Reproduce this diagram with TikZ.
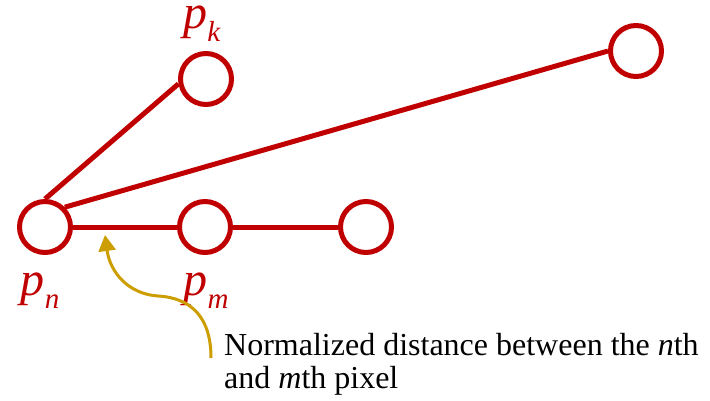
\documentclass[tikz,border=0pt]{standalone}
\usepackage{fontspec}
\setmainfont{Liberation Serif}
\usetikzlibrary{arrows.meta}
\definecolor{dred}{RGB}{192,0,0}
\definecolor{gold}{RGB}{204,158,0}
\newcommand{\plab}[1]{\textit{p}\raisebox{-13pt}{\fontsize{29}{29}\selectfont\textit{#1}}}
\tikzset{
  pix/.style={circle, draw=dred, line width=5pt, minimum size=51pt, inner sep=0pt, fill=white},
  link/.style={draw=dred, line width=5pt},
  lbl/.style={text=dred, font=\fontsize{48}{48}\selectfont, anchor=base, inner sep=0pt},
  note/.style={font=\fontsize{32}{33}\selectfont, align=left, anchor=base west, inner sep=0pt},
  pointer/.style={draw=gold, line width=3pt, -{Triangle[width=17pt,length=16pt]}}
}
\begin{document}
\begin{tikzpicture}[x=1pt,y=-1pt]
\useasboundingbox (0,0) rectangle (710,401);
\node[pix] (pn) at (45,227) {};
\node[pix] (pk) at (206,79) {};
\node[pix] (pm) at (205,227) {};
\node[pix] (pr) at (366,227) {};
\node[pix] (pt) at (636,51) {};
\draw[link] (pn.north) -- (pk.190);
\draw[link] (pn.45) -- (pt.west);
\draw[link] (pn.east) -- (pm.west);
\draw[link] (pm.east) -- (pr.west);
\node[lbl] (lk) at (202,29) {\plab{k}};
\node[lbl] (ln) at (40,295) {\plab{n}};
\node[lbl] (lm) at (206,295) {\plab{m}};
\node[note] (txt) at (224,388) {Normalized distance between the \textit{n}th\\and \textit{m}th pixel};
\coordinate (tail) at (211,358);
\coordinate (mid) at (158,296);
\coordinate (tip) at (105,235);
\draw[pointer] (tail) .. controls (211,318) and (192,298) .. (mid) .. controls (128,294) and (110,272) .. (tip);
\end{tikzpicture}
\end{document}
